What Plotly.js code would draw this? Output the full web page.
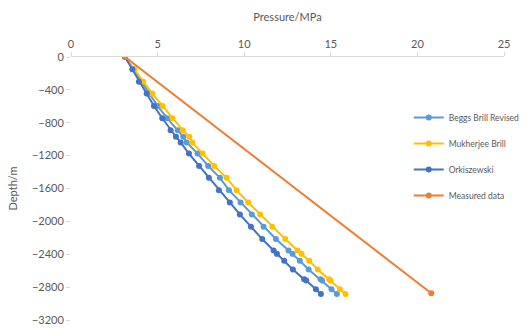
<!DOCTYPE html>
<html>
<head>
<meta charset="utf-8">
<script src="https://cdn.plot.ly/plotly-3.0.1.min.js"></script>
<style>html,body{margin:0;padding:0;background:#fff;}#chart{width:527px;height:330px;}</style>
</head>
<body>
<div id="chart"></div>
<script>
// Depth (m) of calculation points
const depth = [0, -150, -300, -445, -595, -745, -890, -970, -1040, -1175, -1325, -1470, -1620, -1770, -1915, -2065, -2215, -2355, -2395, -2480, -2585, -2705, -2720, -2825, -2885];
// Pressure (MPa) for each model
const beggsBrill = [3.12, 3.60, 4.05, 4.50, 5.00, 5.55, 6.16, 6.48, 6.68, 7.31, 7.92, 8.60, 9.12, 9.79, 10.44, 11.12, 11.83, 12.56, 12.79, 13.21, 13.72, 14.41, 14.50, 15.04, 15.35];
const mukherjee = [3.12, 3.65, 4.17, 4.69, 5.29, 5.86, 6.45, 6.83, 7.00, 7.60, 8.27, 8.98, 9.56, 10.23, 10.92, 11.62, 12.37, 13.08, 13.31, 13.75, 14.25, 14.90, 14.98, 15.52, 15.85];
const orkiszewski = [3.12, 3.54, 3.92, 4.37, 4.79, 5.27, 5.75, 6.06, 6.33, 6.81, 7.40, 7.96, 8.54, 9.17, 9.75, 10.39, 11.04, 11.70, 11.89, 12.31, 12.81, 13.46, 13.58, 14.14, 14.43];
// Measured data
const measuredDepth = [0, -2875];
const measuredPressure = [3.12, 20.8];

const names = ["Beggs Brill Revised", "Mukherjee Brill", "Orkiszewski", "Measured data"];
const colors = ["#5B9BD5", "#FFC000", "#4472C4", "#ED7D31"];

function tr(x, y, i) {
  return {
    x: x, y: y, name: names[i], type: "scatter", mode: "lines+markers",
    legendgroup: "g" + i,
    line: {color: colors[i], width: 2},
    marker: {color: colors[i], size: 6}
  };
}
const data = [
  tr(beggsBrill, depth, 0),
  tr(mukherjee, depth, 1),
  tr(orkiszewski, depth, 2),
  tr(measuredPressure, measuredDepth, 3)
];
const gray = "#595959";
const layout = {
  width: 527, height: 330,
  margin: {l: 71, r: 23, t: 57, b: 10, autoexpand: false},
  paper_bgcolor: "#fff", plot_bgcolor: "#fff",
  font: {family: "Lato, 'Open Sans', sans-serif", color: gray, size: 11},
  showlegend: true,
  legend: {
    x: 0.78, xanchor: "left", y: 0.825, yanchor: "top",
    font: {size: 8.5, color: gray},
    traceorder: "grouped", tracegroupgap: 7,
    itemwidth: 30, bgcolor: "rgba(0,0,0,0)"
  },
  xaxis: {
    side: "top", range: [0, 25], dtick: 5, tick0: 0,
    showgrid: false, zeroline: false,
    showline: true, linecolor: "#d9d9d9", linewidth: 1,
    ticks: "outside", ticklen: 4, tickcolor: "#d9d9d9",
    tickfont: {size: 11, color: gray},
    title: {text: "Pressure/MPa", font: {size: 11, color: gray}, standoff: 12}
  },
  yaxis: {
    range: [-3200, 0], dtick: 400, tick0: 0,
    showgrid: false, zeroline: false, showline: false,
    ticks: "outside", ticklen: 4, tickcolor: "#d9d9d9",
    tickfont: {size: 11, color: gray},
    title: {text: "Depth/m", font: {size: 11, color: gray}, standoff: 12}
  }
};
Plotly.newPlot("chart", data, layout, {displayModeBar: false, staticPlot: true});
</script>
</body>
</html>
